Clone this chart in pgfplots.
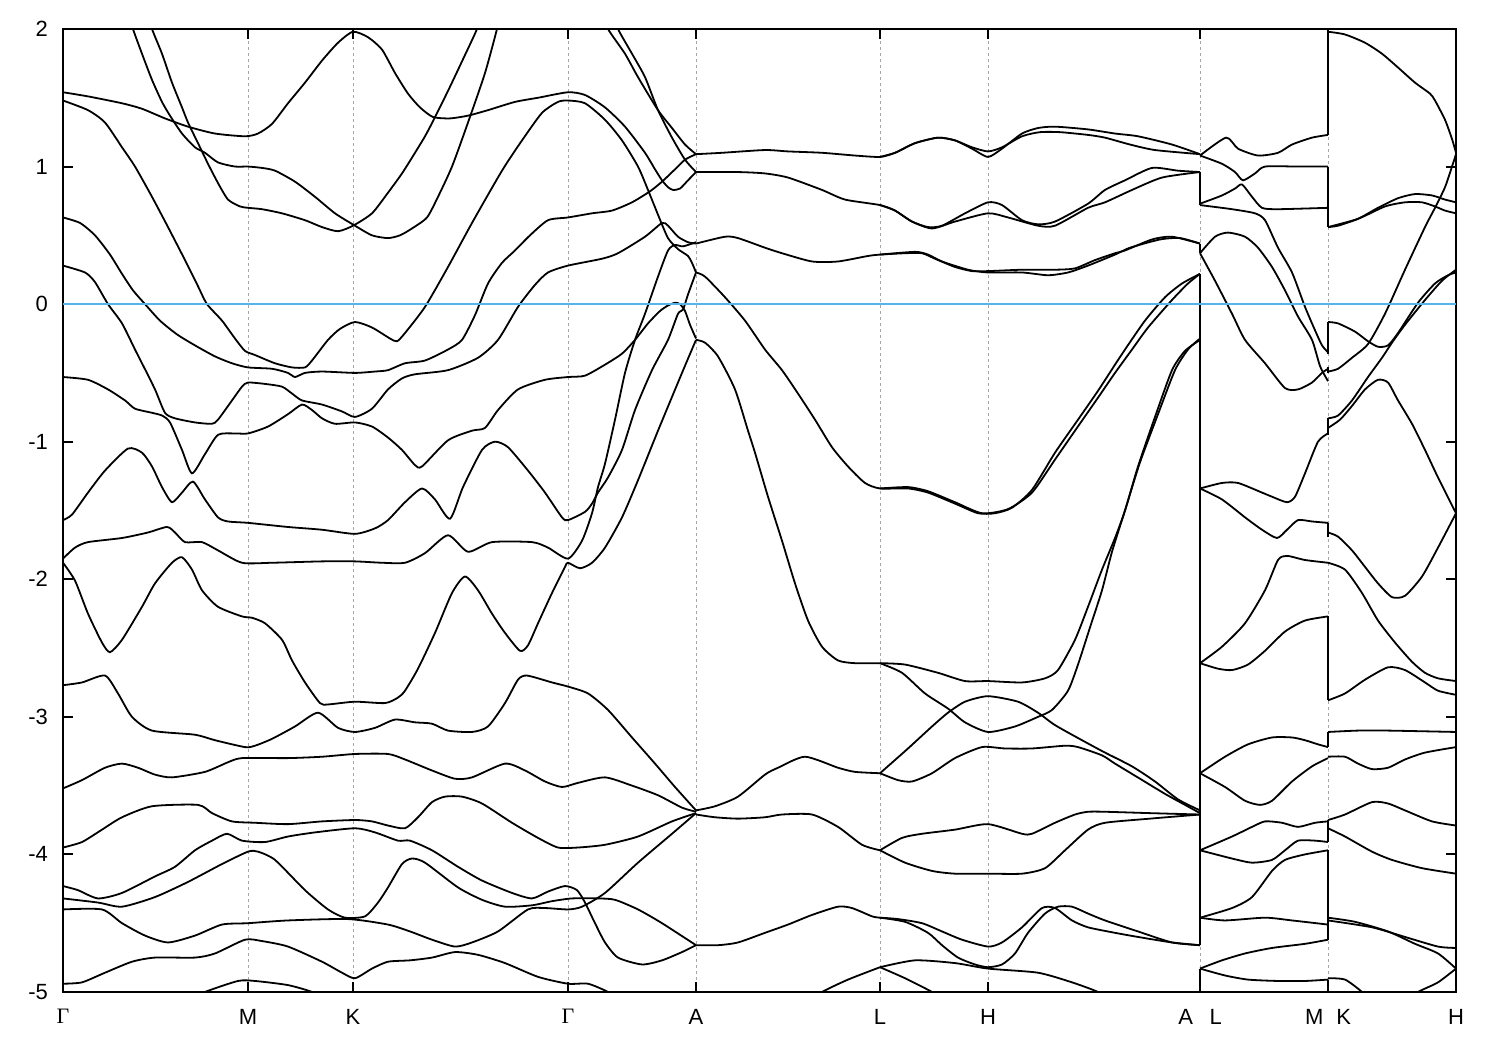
\documentclass[border=0pt]{standalone}
\usepackage{fontspec}
\setmainfont{Liberation Sans}
\newfontfamily\seriffont{Liberation Serif}
\usepackage{pgfplots}
\pgfplotsset{compat=1.18}
\definecolor{fermi}{RGB}{86,180,233}
\pgfplotsset{band/.style={black, solid, mark=none, line width=0.9pt, smooth, tension=0.4}}
\begin{document}
\begin{tikzpicture}
\begin{axis}[
  scale only axis, width=696.5pt, height=481.5pt,
  xmin=63, xmax=1456, ymin=-5, ymax=2,
  xtick={63,248,353,568,696,880,988,1200,1328,1456},
  xticklabels={{\seriffont Γ},M,K,{\seriffont Γ},A,L,H,{A\hspace{8.3pt}L},{M\hspace{6.5pt}K},H},
  ytick={-5,-4,-3,-2,-1,0,1,2},
  /pgf/number format/assume math mode=true,
  tick label style={font=\fontsize{11}{13}\selectfont},
  xmajorgrids, grid style={gray!70, dash pattern=on 1.5pt off 1.5pt, line width=0.4pt},
  tick align=inside, major tick length=5pt,
  axis line style={line width=1pt},
  every tick/.style={black, line width=1pt},
  xticklabel style={yshift=-5pt},
  yticklabel style={xshift=-4pt},
]
% ---------- Gamma - M - K - Gamma - A ----------
\addplot[band] coordinates {(63,1.54)(88,1.51)(122,1.46)(142,1.42)(165,1.35)(188,1.29)(215,1.24)(245,1.22)(258,1.24)(272,1.31)(288,1.46)(305,1.61)(322,1.77)(338,1.90)(353,1.98)(368,1.94)(382,1.85)(395,1.68)(408,1.53)(420,1.43)(433,1.36)(450,1.35)(468,1.37)(488,1.41)(515,1.47)(538,1.50)(568,1.54)(585,1.52)(605,1.43)(625,1.29)(645,1.10)(655,0.98)(662,0.90)(668,0.85)(673,0.83)(680,0.84)(688,0.90)(696,0.96)};
\addplot[band] coordinates {(130,2.1)(133,2.0)(142,1.82)(152,1.63)(162,1.47)(170,1.37)(182,1.24)(195,1.14)(205,1.10)(218,1.03)(235,1.00)(248,1.00)(262,0.99)(275,0.97)(295,0.89)(315,0.78)(335,0.66)(355,0.57)(372,0.50)(388,0.48)(400,0.50)(412,0.55)(427,0.63)(438,0.78)(452,1.00)(468,1.32)(485,1.68)(497,2.0)(500,2.1)};
\addplot[band] coordinates {(149,2.1)(152,2.0)(162,1.82)(172,1.61)(182,1.43)(188,1.32)(198,1.17)(208,1.02)(218,0.88)(228,0.76)(240,0.71)(248,0.70)(262,0.69)(282,0.66)(305,0.61)(322,0.56)(338,0.53)(353,0.57)(372,0.66)(388,0.81)(402,0.95)(415,1.10)(425,1.22)(433,1.33)(448,1.55)(463,1.78)(477,2.0)(480,2.1)};
\addplot[band] coordinates {(63,1.48)(88,1.41)(105,1.32)(122,1.14)(135,1.00)(152,0.78)(168,0.56)(185,0.32)(198,0.13)(207,0.0)(222,-0.12)(235,-0.25)(245,-0.34)(255,-0.37)(275,-0.43)(292,-0.46)(305,-0.46)(312,-0.41)(328,-0.26)(340,-0.18)(355,-0.13)(372,-0.17)(390,-0.25)(397,-0.27)(405,-0.21)(425,-0.02)(448,0.27)(472,0.59)(502,0.97)(522,1.19)(542,1.39)(558,1.47)(568,1.48)(585,1.46)(605,1.34)(622,1.19)(638,1.00)(648,0.83)(658,0.65)(668,0.48)(678,0.40)(688,0.35)(692,0.30)(696,0.23)};
\addplot[band] coordinates {(63,0.63)(80,0.59)(95,0.50)(110,0.36)(122,0.22)(133,0.10)(145,0.0)(160,-0.12)(177,-0.22)(195,-0.30)(215,-0.38)(232,-0.43)(248,-0.46)(272,-0.47)(288,-0.50)(295,-0.53)(305,-0.50)(322,-0.49)(355,-0.50)(375,-0.49)(388,-0.48)(405,-0.43)(425,-0.41)(448,-0.33)(462,-0.26)(475,-0.08)(488,0.15)(502,0.30)(515,0.39)(530,0.50)(548,0.61)(568,0.63)(592,0.66)(612,0.68)(632,0.74)(650,0.82)(662,0.89)(675,0.98)(685,1.05)(696,1.09)};
\addplot[band] coordinates {(63,0.28)(85,0.23)(95,0.16)(108,0.0)(122,-0.14)(135,-0.33)(142,-0.43)(155,-0.62)(165,-0.79)(175,-0.83)(195,-0.86)(212,-0.87)(218,-0.84)(232,-0.70)(242,-0.60)(248,-0.57)(265,-0.58)(282,-0.60)(292,-0.65)(302,-0.70)(322,-0.73)(342,-0.78)(355,-0.82)(372,-0.76)(388,-0.62)(402,-0.54)(415,-0.51)(448,-0.48)(478,-0.39)(498,-0.26)(518,-0.02)(535,0.14)(548,0.23)(568,0.28)(602,0.33)(618,0.37)(645,0.49)(662,0.59)(668,0.57)(678,0.49)(688,0.45)(696,0.44)};
\addplot[band] coordinates {(63,-0.53)(88,-0.55)(108,-0.62)(125,-0.70)(135,-0.76)(152,-0.79)(162,-0.81)(170,-0.86)(182,-1.06)(192,-1.23)(205,-1.09)(218,-0.95)(235,-0.94)(248,-0.94)(268,-0.89)(288,-0.80)(302,-0.73)(312,-0.77)(322,-0.83)(335,-0.87)(355,-0.86)(372,-0.89)(388,-0.97)(402,-1.06)(415,-1.17)(422,-1.18)(448,-0.99)(472,-0.92)(485,-0.90)(498,-0.77)(518,-0.62)(545,-0.55)(568,-0.53)(585,-0.52)(605,-0.44)(622,-0.36)(635,-0.26)(648,-0.14)(660,-0.05)(668,-0.01)(675,0.01)(680,0.0)(685,-0.05)(690,-0.15)(696,-0.25)};
\addplot[band] coordinates {(63,-1.57)(72,-1.53)(88,-1.37)(105,-1.21)(128,-1.05)(142,-1.08)(152,-1.18)(162,-1.33)(172,-1.44)(182,-1.37)(193,-1.29)(205,-1.42)(218,-1.55)(228,-1.58)(248,-1.59)(288,-1.62)(322,-1.64)(355,-1.67)(375,-1.63)(388,-1.57)(405,-1.44)(422,-1.34)(435,-1.42)(450,-1.56)(463,-1.33)(482,-1.06)(495,-1.00)(508,-1.04)(528,-1.21)(545,-1.37)(562,-1.55)(568,-1.57)(585,-1.51)(592,-1.45)(598,-1.37)(608,-1.26)(622,-1.06)(635,-0.77)(652,-0.48)(668,-0.26)(678,-0.07)(683,-0.04)(688,0.07)(696,0.23)};
\addplot[band] coordinates {(63,-1.85)(75,-1.77)(88,-1.73)(122,-1.70)(148,-1.66)(167,-1.62)(175,-1.66)(185,-1.73)(202,-1.73)(218,-1.79)(242,-1.88)(272,-1.88)(322,-1.87)(355,-1.87)(382,-1.88)(405,-1.88)(425,-1.81)(448,-1.68)(468,-1.80)(492,-1.73)(532,-1.73)(548,-1.77)(568,-1.85)(582,-1.72)(592,-1.52)(598,-1.33)(605,-1.16)(615,-0.84)(625,-0.50)(635,-0.26)(645,-0.07)(658,0.20)(668,0.39)(675,0.43)(683,0.42)(696,0.45)};
\addplot[band] coordinates {(63,-1.88)(75,-2.01)(88,-2.25)(102,-2.46)(110,-2.53)(122,-2.44)(142,-2.20)(155,-2.03)(172,-1.88)(182,-1.84)(192,-1.93)(202,-2.08)(218,-2.20)(242,-2.27)(252,-2.28)(265,-2.32)(282,-2.44)(292,-2.59)(305,-2.75)(320,-2.90)(328,-2.91)(355,-2.89)(385,-2.90)(398,-2.86)(405,-2.81)(418,-2.65)(435,-2.39)(452,-2.10)(465,-1.98)(478,-2.08)(492,-2.25)(505,-2.39)(520,-2.52)(528,-2.48)(538,-2.32)(552,-2.10)(565,-1.91)(568,-1.88)(580,-1.92)(592,-1.88)(605,-1.77)(622,-1.55)(638,-1.28)(658,-0.92)(682,-0.50)(696,-0.26)};
\addplot[band] coordinates {(63,-2.77)(82,-2.75)(105,-2.70)(118,-2.83)(132,-3.00)(152,-3.10)(195,-3.13)(215,-3.17)(245,-3.22)(255,-3.21)(272,-3.16)(295,-3.07)(318,-2.97)(338,-3.08)(355,-3.11)(375,-3.08)(395,-3.02)(415,-3.04)(432,-3.05)(448,-3.10)(472,-3.11)(488,-3.07)(505,-2.90)(518,-2.73)(527,-2.70)(552,-2.75)(568,-2.78)(588,-2.83)(608,-2.95)(632,-3.15)(655,-3.34)(675,-3.51)(696,-3.68)};
\addplot[band] coordinates {(63,-3.52)(82,-3.46)(105,-3.37)(122,-3.34)(138,-3.37)(155,-3.42)(172,-3.44)(205,-3.40)(228,-3.33)(242,-3.30)(288,-3.30)(322,-3.29)(355,-3.27)(388,-3.27)(405,-3.31)(432,-3.39)(455,-3.45)(472,-3.44)(505,-3.34)(525,-3.39)(545,-3.47)(562,-3.51)(578,-3.48)(605,-3.44)(632,-3.50)(658,-3.57)(682,-3.66)(696,-3.69)};
\addplot[band] coordinates {(63,-3.95)(82,-3.91)(102,-3.82)(122,-3.73)(152,-3.65)(198,-3.64)(212,-3.70)(232,-3.76)(255,-3.77)(288,-3.78)(322,-3.76)(355,-3.75)(372,-3.76)(388,-3.79)(405,-3.81)(418,-3.73)(432,-3.62)(445,-3.58)(462,-3.58)(482,-3.63)(512,-3.77)(538,-3.88)(558,-3.95)(578,-3.95)(605,-3.93)(638,-3.87)(672,-3.76)(696,-3.70)};
\addplot[band] coordinates {(63,-4.23)(78,-4.26)(98,-4.32)(122,-4.28)(155,-4.16)(175,-4.09)(195,-3.97)(212,-3.90)(227,-3.85)(242,-3.90)(265,-3.91)(288,-3.87)(315,-3.84)(355,-3.81)(375,-3.84)(398,-3.90)(410,-3.90)(432,-3.97)(458,-4.09)(482,-4.19)(512,-4.28)(532,-4.32)(548,-4.27)(565,-4.23)(577,-4.26)(585,-4.35)(595,-4.50)(605,-4.64)(618,-4.75)(642,-4.80)(662,-4.77)(682,-4.71)(696,-4.66)};
\addplot[band] coordinates {(63,-4.32)(98,-4.35)(122,-4.38)(155,-4.31)(188,-4.20)(222,-4.07)(248,-3.98)(258,-3.98)(275,-4.04)(305,-4.26)(328,-4.40)(345,-4.46)(365,-4.45)(378,-4.35)(388,-4.24)(402,-4.07)(412,-4.03)(425,-4.06)(458,-4.24)(482,-4.33)(505,-4.38)(532,-4.37)(552,-4.34)(572,-4.32)(598,-4.32)(615,-4.33)(638,-4.40)(662,-4.50)(696,-4.66)};
\addplot[band] coordinates {(63,-4.40)(102,-4.40)(122,-4.50)(145,-4.59)(168,-4.64)(195,-4.59)(222,-4.51)(248,-4.50)(288,-4.48)(348,-4.47)(388,-4.51)(410,-4.56)(432,-4.62)(455,-4.67)(472,-4.64)(498,-4.56)(528,-4.40)(545,-4.39)(568,-4.40)(582,-4.38)(605,-4.28)(638,-4.06)(672,-3.85)(696,-3.70)};
\addplot[band] coordinates {(63,-4.94)(82,-4.93)(105,-4.86)(132,-4.78)(155,-4.75)(195,-4.75)(215,-4.72)(245,-4.62)(262,-4.63)(288,-4.67)(322,-4.78)(342,-4.86)(355,-4.90)(372,-4.83)(388,-4.78)(410,-4.77)(432,-4.75)(455,-4.71)(478,-4.73)(505,-4.79)(538,-4.89)(568,-4.94)(588,-4.94)(608,-5.0)(615,-5.05)};
\addplot[band] coordinates {(195,-5.05)(205,-5.0)(238,-4.92)(255,-4.92)(288,-4.95)(312,-5.0)(320,-5.05)};
\addplot[band] coordinates {(605,2.1)(608,2.0)(625,1.82)(638,1.65)(658,1.41)(672,1.28)(685,1.16)(696,1.09)};
\addplot[band] coordinates {(615,2.1)(618,2.0)(632,1.82)(645,1.65)(658,1.41)(672,1.21)(685,1.05)(696,0.96)};
% ---------- A - L - H - A ----------
\addplot[band] coordinates {(696,1.09)(722,1.10)(765,1.12)(788,1.11)(822,1.10)(855,1.08)(880,1.07)(895,1.10)(915,1.17)(938,1.21)(955,1.19)(972,1.13)(988,1.07)(1002,1.13)(1022,1.24)(1038,1.28)(1055,1.29)(1088,1.27)(1115,1.24)(1138,1.22)(1172,1.16)(1200,1.09)};
\addplot[band] coordinates {(880,1.07)(895,1.10)(915,1.17)(938,1.21)(955,1.19)(972,1.14)(988,1.11)(1002,1.14)(1022,1.22)(1040,1.25)(1060,1.25)(1088,1.23)(1105,1.21)(1130,1.16)(1155,1.12)(1200,1.09)};
\addplot[band] coordinates {(696,0.96)(738,0.96)(765,0.95)(788,0.92)(822,0.83)(845,0.76)(880,0.72)(895,0.68)(912,0.60)(928,0.56)(942,0.57)(965,0.66)(988,0.74)(1002,0.72)(1022,0.61)(1038,0.58)(1055,0.60)(1088,0.73)(1105,0.83)(1125,0.90)(1152,0.99)(1178,0.97)(1200,0.96)};
\addplot[band] coordinates {(880,0.72)(895,0.68)(912,0.60)(932,0.55)(955,0.60)(988,0.66)(1008,0.63)(1038,0.57)(1055,0.57)(1088,0.70)(1105,0.74)(1132,0.83)(1162,0.92)(1200,0.96)};
\addplot[band] coordinates {(696,0.44)(725,0.49)(738,0.48)(765,0.41)(782,0.37)(812,0.31)(838,0.31)(868,0.35)(880,0.36)(905,0.37)(922,0.37)(935,0.33)(955,0.27)(972,0.24)(988,0.24)(1022,0.25)(1055,0.25)(1075,0.26)(1095,0.32)(1115,0.37)(1125,0.39)(1152,0.47)(1172,0.49)(1200,0.44)};
\addplot[band] coordinates {(880,0.36)(915,0.38)(928,0.36)(942,0.31)(968,0.25)(988,0.23)(1022,0.23)(1048,0.21)(1068,0.23)(1088,0.28)(1115,0.36)(1130,0.41)(1160,0.47)(1180,0.48)(1200,0.44)};
\addplot[band] coordinates {(696,0.23)(705,0.20)(725,0.05)(745,-0.12)(765,-0.33)(782,-0.48)(798,-0.65)(815,-0.84)(832,-1.04)(848,-1.18)(865,-1.30)(880,-1.34)(908,-1.34)(928,-1.37)(955,-1.45)(978,-1.52)(995,-1.52)(1012,-1.48)(1032,-1.35)(1055,-1.08)(1078,-0.84)(1098,-0.63)(1115,-0.44)(1125,-0.33)(1145,-0.12)(1165,0.05)(1182,0.15)(1200,0.22)};
\addplot[band] coordinates {(880,-1.34)(908,-1.33)(928,-1.36)(955,-1.44)(982,-1.52)(1008,-1.49)(1032,-1.37)(1055,-1.13)(1075,-0.92)(1098,-0.68)(1115,-0.50)(1132,-0.33)(1148,-0.17)(1172,0.03)(1188,0.15)(1200,0.22)};
\addplot[band] coordinates {(696,-0.26)(705,-0.28)(718,-0.38)(735,-0.62)(748,-0.92)(755,-1.08)(768,-1.40)(782,-1.72)(795,-2.03)(808,-2.30)(822,-2.49)(838,-2.59)(855,-2.61)(880,-2.61)};
\addplot[band] coordinates {(880,-2.61)(905,-2.62)(938,-2.68)(965,-2.74)(988,-2.74)(1022,-2.75)(1045,-2.72)(1058,-2.66)(1075,-2.44)(1088,-2.20)(1102,-1.93)(1115,-1.70)(1125,-1.50)(1138,-1.18)(1155,-0.82)(1172,-0.48)(1185,-0.34)(1200,-0.26)};
\addplot[band] coordinates {(880,-2.61)(902,-2.68)(925,-2.83)(948,-2.94)(965,-3.04)(988,-3.11)(1015,-3.07)(1038,-3.00)(1052,-2.95)(1068,-2.81)(1078,-2.62)(1090,-2.35)(1102,-2.08)(1112,-1.80)(1125,-1.50)(1140,-1.15)(1158,-0.80)(1175,-0.48)(1188,-0.33)(1200,-0.25)};
\addplot[band] coordinates {(696,-3.68)(715,-3.65)(738,-3.58)(765,-3.42)(778,-3.37)(805,-3.29)(838,-3.37)(855,-3.40)(880,-3.41)};
\addplot[band] coordinates {(880,-3.41)(908,-3.23)(932,-3.07)(948,-2.97)(965,-2.89)(988,-2.85)(1018,-2.89)(1038,-2.97)(1055,-3.06)(1082,-3.17)(1105,-3.26)(1132,-3.36)(1155,-3.47)(1178,-3.60)(1200,-3.68)};
\addplot[band] coordinates {(880,-3.41)(898,-3.46)(912,-3.47)(932,-3.41)(955,-3.30)(982,-3.22)(1005,-3.23)(1032,-3.23)(1065,-3.21)(1078,-3.22)(1102,-3.28)(1115,-3.34)(1140,-3.45)(1165,-3.56)(1185,-3.64)(1200,-3.70)};
\addplot[band] coordinates {(696,-3.71)(715,-3.73)(738,-3.74)(765,-3.73)(782,-3.71)(812,-3.71)(838,-3.80)(862,-3.93)(880,-3.97)};
\addplot[band] coordinates {(880,-3.97)(902,-3.88)(922,-3.85)(955,-3.82)(988,-3.78)(1022,-3.85)(1032,-3.85)(1055,-3.77)(1075,-3.71)(1088,-3.69)(1105,-3.69)(1150,-3.70)(1200,-3.71)};
\addplot[band] coordinates {(880,-3.97)(905,-4.06)(932,-4.12)(955,-4.14)(988,-4.14)(1022,-4.14)(1045,-4.10)(1065,-3.97)(1088,-3.82)(1105,-3.77)(1150,-3.74)(1200,-3.71)};
\addplot[band] coordinates {(696,-4.66)(718,-4.66)(738,-4.64)(765,-4.57)(788,-4.51)(812,-4.44)(838,-4.38)(852,-4.39)(872,-4.45)(880,-4.46)};
\addplot[band] coordinates {(880,-4.46)(898,-4.47)(922,-4.50)(942,-4.56)(962,-4.62)(988,-4.67)(1002,-4.64)(1022,-4.53)(1042,-4.39)(1055,-4.39)(1072,-4.48)(1088,-4.53)(1115,-4.57)(1138,-4.60)(1172,-4.64)(1200,-4.66)};
\addplot[band] coordinates {(880,-4.46)(905,-4.49)(928,-4.57)(942,-4.66)(958,-4.75)(975,-4.80)(988,-4.82)(1002,-4.80)(1015,-4.72)(1028,-4.57)(1045,-4.43)(1058,-4.38)(1072,-4.38)(1088,-4.43)(1105,-4.48)(1138,-4.56)(1172,-4.64)(1200,-4.66)};
\addplot[band] coordinates {(815,-5.05)(822,-5.0)(848,-4.91)(880,-4.82)};
\addplot[band] coordinates {(880,-4.82)(915,-4.77)(955,-4.79)(988,-4.83)(1038,-4.86)(1072,-4.93)(1098,-5.0)(1105,-5.05)};
\addplot[band] coordinates {(880,-4.82)(905,-4.90)(932,-5.0)(940,-5.05)};
% ---------- L - M ----------
\addplot[band] coordinates {(1200,1.08)(1226,1.21)(1238,1.13)(1258,1.08)(1278,1.10)(1292,1.16)(1312,1.21)(1328,1.23)};
\addplot[band] coordinates {(1200,1.08)(1222,1.02)(1235,0.96)(1243,0.90)(1255,0.95)(1265,1.00)(1298,1.00)(1328,1.00)};
\addplot[band] coordinates {(1200,0.73)(1222,0.79)(1235,0.84)(1242,0.87)(1252,0.78)(1262,0.70)(1278,0.69)(1328,0.70)};
\addplot[band] coordinates {(1200,0.72)(1232,0.69)(1255,0.66)(1265,0.61)(1278,0.41)(1292,0.23)(1305,-0.02)(1315,-0.19)(1322,-0.30)(1328,-0.35)};
\addplot[band] coordinates {(1200,0.37)(1215,0.49)(1228,0.52)(1245,0.49)(1258,0.41)(1272,0.27)(1285,0.10)(1298,-0.09)(1312,-0.26)(1320,-0.45)(1328,-0.56)};
\addplot[band] coordinates {(1200,0.37)(1215,0.17)(1232,-0.07)(1245,-0.26)(1265,-0.43)(1285,-0.61)(1298,-0.62)(1312,-0.57)(1322,-0.50)(1328,-0.47)};
\addplot[band] coordinates {(1200,-1.34)(1222,-1.30)(1238,-1.30)(1262,-1.37)(1272,-1.40)(1287,-1.44)(1295,-1.40)(1305,-1.23)(1318,-1.00)(1328,-0.94)};
\addplot[band] coordinates {(1200,-1.34)(1222,-1.42)(1245,-1.55)(1262,-1.64)(1277,-1.70)(1287,-1.64)(1298,-1.57)(1312,-1.58)(1328,-1.59)};
\addplot[band] coordinates {(1200,-2.61)(1222,-2.49)(1245,-2.32)(1265,-2.08)(1278,-1.86)(1287,-1.83)(1305,-1.86)(1328,-1.88)};
\addplot[band] coordinates {(1200,-2.61)(1218,-2.65)(1232,-2.66)(1248,-2.62)(1265,-2.52)(1285,-2.38)(1305,-2.30)(1328,-2.27)};
\addplot[band] coordinates {(1200,-3.41)(1225,-3.29)(1248,-3.20)(1272,-3.15)(1292,-3.15)(1305,-3.17)(1318,-3.20)(1328,-3.22)};
\addplot[band] coordinates {(1200,-3.41)(1225,-3.51)(1245,-3.61)(1260,-3.64)(1272,-3.61)(1292,-3.47)(1312,-3.36)(1328,-3.30)};
\addplot[band] coordinates {(1200,-3.97)(1232,-3.87)(1252,-3.80)(1265,-3.76)(1282,-3.77)(1298,-3.80)(1315,-3.77)(1328,-3.76)};
\addplot[band] coordinates {(1200,-3.97)(1232,-4.03)(1252,-4.06)(1272,-4.04)(1285,-3.97)(1298,-3.90)(1315,-3.90)(1328,-3.91)};
\addplot[band] coordinates {(1200,-4.46)(1232,-4.39)(1252,-4.31)(1272,-4.12)(1285,-4.04)(1305,-4.00)(1328,-3.97)};
\addplot[band] coordinates {(1200,-4.46)(1225,-4.48)(1265,-4.46)(1292,-4.48)(1328,-4.51)};
\addplot[band] coordinates {(1200,-4.83)(1222,-4.77)(1245,-4.72)(1272,-4.68)(1305,-4.65)(1328,-4.62)};
\addplot[band] coordinates {(1200,-4.83)(1225,-4.88)(1248,-4.91)(1278,-4.92)(1305,-4.92)(1328,-4.91)};
% ---------- K - H ----------
\addplot[band] coordinates {(1328,1.98)(1345,1.96)(1365,1.90)(1382,1.82)(1398,1.72)(1415,1.61)(1430,1.53)(1435,1.48)(1445,1.34)(1452,1.20)(1456,1.10)};
\addplot[band] coordinates {(1328,0.56)(1338,0.57)(1358,0.62)(1378,0.70)(1398,0.77)(1415,0.80)(1432,0.79)(1445,0.76)(1456,0.74)};
\addplot[band] coordinates {(1328,0.56)(1358,0.62)(1385,0.71)(1405,0.74)(1422,0.74)(1435,0.71)(1445,0.68)(1456,0.66)};
\addplot[band] coordinates {(1328,-0.49)(1338,-0.47)(1352,-0.39)(1368,-0.29)(1385,-0.07)(1405,0.25)(1425,0.56)(1435,0.70)(1445,0.85)(1452,1.00)(1456,1.09)};
\addplot[band] coordinates {(1328,-0.13)(1338,-0.14)(1355,-0.20)(1368,-0.27)(1378,-0.31)(1388,-0.30)(1398,-0.21)(1418,0.01)(1435,0.15)(1448,0.21)(1456,0.23)};
\addplot[band] coordinates {(1328,-0.83)(1338,-0.81)(1352,-0.70)(1368,-0.53)(1382,-0.39)(1392,-0.28)(1405,-0.15)(1425,0.03)(1442,0.17)(1456,0.25)};
\addplot[band] coordinates {(1328,-0.90)(1340,-0.84)(1352,-0.74)(1365,-0.62)(1378,-0.55)(1388,-0.57)(1398,-0.70)(1412,-0.87)(1425,-1.06)(1438,-1.26)(1456,-1.52)};
\addplot[band] coordinates {(1328,-1.66)(1338,-1.69)(1352,-1.79)(1365,-1.91)(1378,-2.03)(1392,-2.13)(1405,-2.12)(1422,-1.98)(1438,-1.77)(1456,-1.52)};
\addplot[band] coordinates {(1328,-1.88)(1345,-1.93)(1362,-2.10)(1378,-2.30)(1395,-2.46)(1412,-2.60)(1425,-2.68)(1438,-2.72)(1456,-2.74)};
\addplot[band] coordinates {(1328,-2.88)(1345,-2.83)(1365,-2.73)(1388,-2.64)(1405,-2.66)(1425,-2.75)(1438,-2.81)(1456,-2.84)};
\addplot[band] coordinates {(1328,-3.11)(1358,-3.10)(1388,-3.10)(1456,-3.11)};
\addplot[band] coordinates {(1328,-3.29)(1345,-3.29)(1358,-3.34)(1372,-3.38)(1388,-3.37)(1405,-3.31)(1425,-3.26)(1456,-3.22)};
\addplot[band] coordinates {(1328,-3.75)(1345,-3.71)(1372,-3.62)(1388,-3.63)(1405,-3.68)(1432,-3.76)(1456,-3.79)};
\addplot[band] coordinates {(1328,-3.81)(1345,-3.87)(1372,-3.98)(1392,-4.04)(1422,-4.10)(1456,-4.14)};
\addplot[band] coordinates {(1328,-4.46)(1355,-4.49)(1388,-4.56)(1415,-4.65)(1438,-4.72)(1456,-4.83)};
\addplot[band] coordinates {(1328,-4.48)(1372,-4.53)(1405,-4.60)(1438,-4.67)(1456,-4.68)};
\addplot[band] coordinates {(1412,-5.05)(1418,-5.0)(1438,-4.93)(1456,-4.83)};
\addplot[band] coordinates {(1328,-4.90)(1345,-4.91)(1362,-5.0)(1366,-5.05)};
% ---------- vertical jumps ----------
\addplot[band] coordinates {(1200,0.96)(1200,0.72)};
\addplot[band] coordinates {(1200,0.44)(1200,0.37)};
\addplot[band] coordinates {(1200,0.22)(1200,-4.66)};
\addplot[band] coordinates {(1200,-4.83)(1200,-5.1)};
\addplot[band] coordinates {(1328,1.99)(1328,1.23)};
\addplot[band] coordinates {(1328,1.00)(1328,0.56)};
\addplot[band] coordinates {(1328,-0.13)(1328,-0.36)};
\addplot[band] coordinates {(1328,-0.46)(1328,-0.50)};
\addplot[band] coordinates {(1328,-0.83)(1328,-0.95)};
\addplot[band] coordinates {(1328,-1.59)(1328,-1.69)};
\addplot[band] coordinates {(1328,-2.27)(1328,-2.88)};
\addplot[band] coordinates {(1328,-3.11)(1328,-3.22)};
\addplot[band] coordinates {(1328,-3.75)(1328,-3.91)};
\addplot[band] coordinates {(1328,-3.97)(1328,-4.62)};
\addplot[band] coordinates {(1328,-4.91)(1328,-5.1)};
% ---------- Fermi level ----------
\addplot[color=fermi, line width=1pt, mark=none] coordinates {(63,0)(1456,0)};
\end{axis}
\pgfresetboundingbox
\path[use as bounding box] ([xshift=-31.5pt,yshift=-29pt]current axis.south west) rectangle ([xshift=22pt,yshift=14.5pt]current axis.north east);
\end{tikzpicture}
\end{document}
